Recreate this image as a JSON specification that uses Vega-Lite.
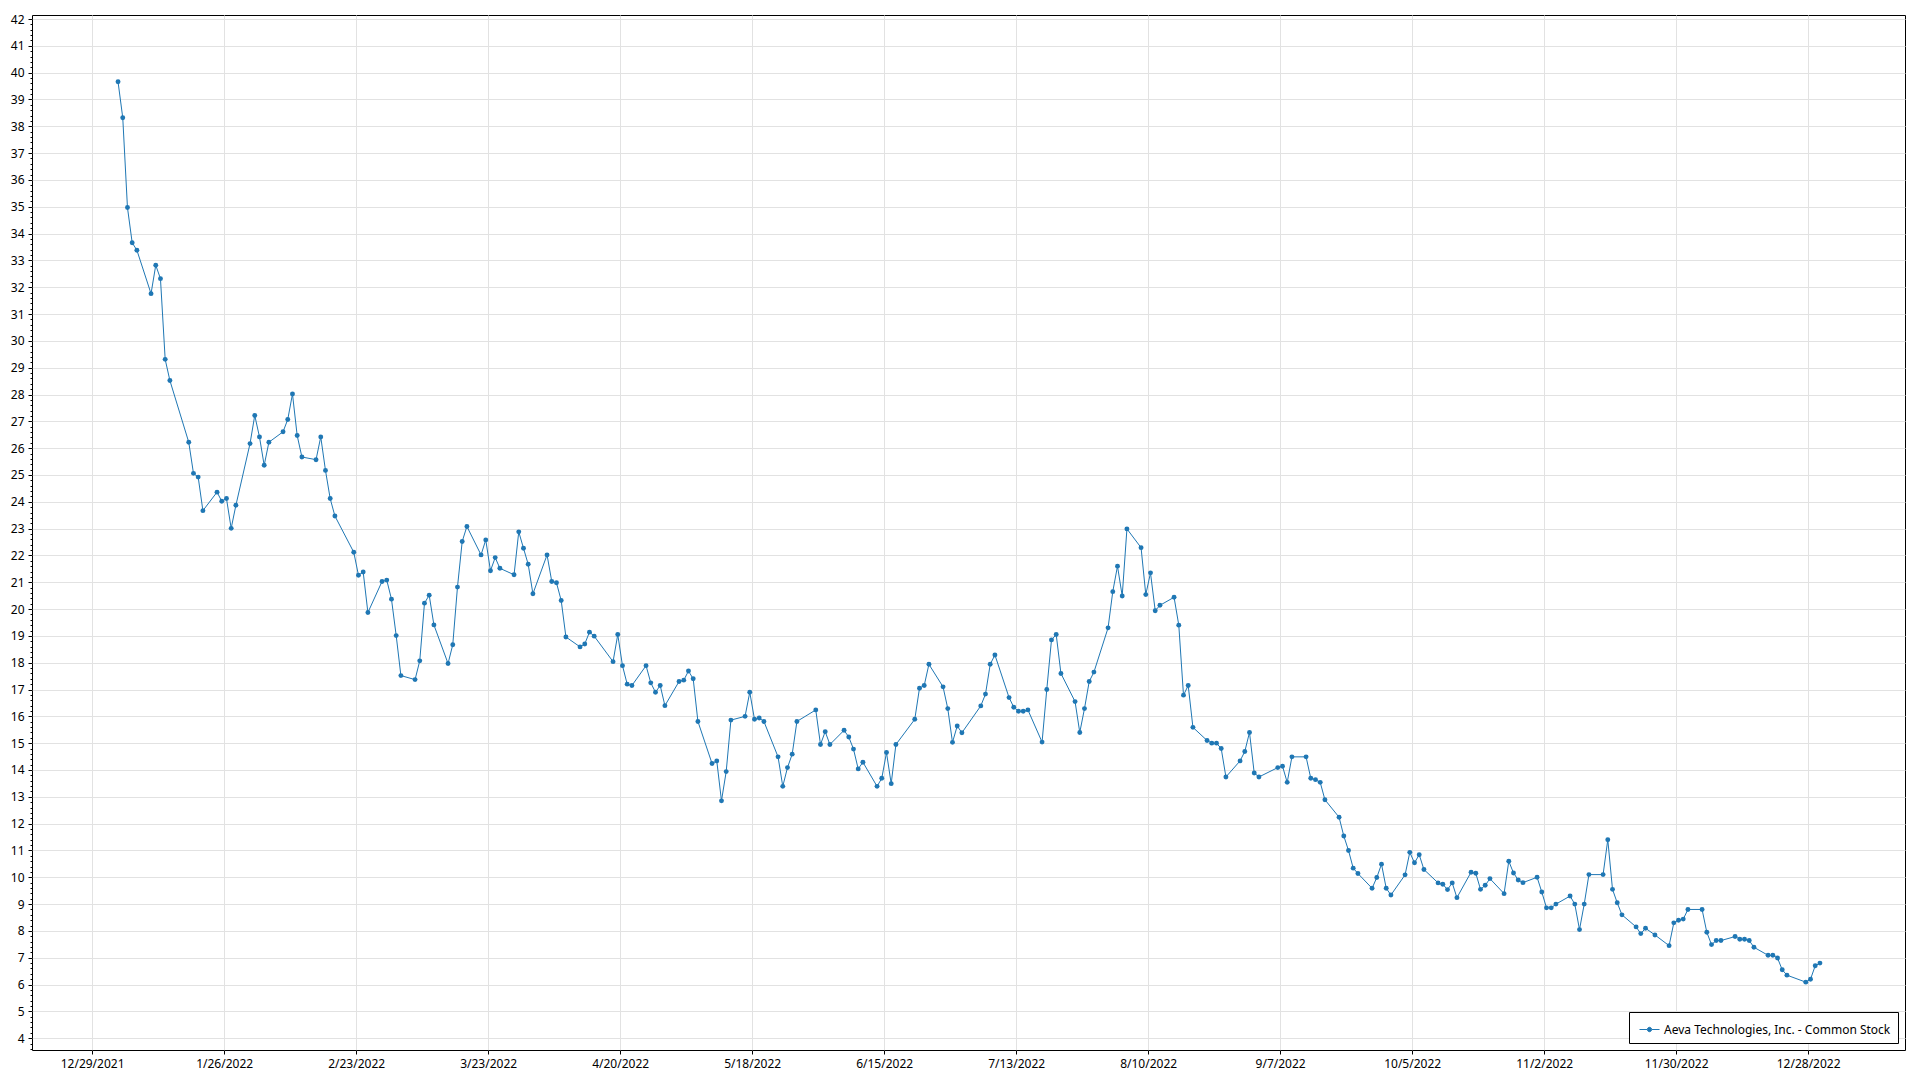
{
  "$schema": "https://vega.github.io/schema/vega-lite/v6.json",
  "width": 1873,
  "height": 1035,
  "autosize": {"type": "none"},
  "padding": {"left": 32, "top": 15, "right": 15, "bottom": 30},
  "background": "white",
  "config": {
    "view": {"stroke": "#000000", "strokeWidth": 1},
    "font": "Segoe UI, Noto Sans, sans-serif"
  },
  "data": {
    "format": {"parse": {"date": "date:'%Y-%m-%dT%H:%M'"}},
    "values": [
      {"date": "2022-01-03T12:00", "close": 39.66}, {"date": "2022-01-04T12:00", "close": 38.32}, {"date": "2022-01-05T12:00", "close": 34.97}, {"date": "2022-01-06T12:00", "close": 33.66}, {"date": "2022-01-07T12:00", "close": 33.38},
      {"date": "2022-01-10T12:00", "close": 31.76}, {"date": "2022-01-11T12:00", "close": 32.82}, {"date": "2022-01-12T12:00", "close": 32.32}, {"date": "2022-01-13T12:00", "close": 29.31}, {"date": "2022-01-14T12:00", "close": 28.52},
      {"date": "2022-01-18T12:00", "close": 26.22}, {"date": "2022-01-19T12:00", "close": 25.06}, {"date": "2022-01-20T12:00", "close": 24.92}, {"date": "2022-01-21T12:00", "close": 23.67},
      {"date": "2022-01-24T12:00", "close": 24.36}, {"date": "2022-01-25T12:00", "close": 24.02}, {"date": "2022-01-26T12:00", "close": 24.12}, {"date": "2022-01-27T12:00", "close": 23.01}, {"date": "2022-01-28T12:00", "close": 23.87},
      {"date": "2022-01-31T12:00", "close": 26.17}, {"date": "2022-02-01T12:00", "close": 27.22}, {"date": "2022-02-02T12:00", "close": 26.42}, {"date": "2022-02-03T12:00", "close": 25.36}, {"date": "2022-02-04T12:00", "close": 26.22},
      {"date": "2022-02-07T12:00", "close": 26.61}, {"date": "2022-02-08T12:00", "close": 27.07}, {"date": "2022-02-09T12:00", "close": 28.02}, {"date": "2022-02-10T12:00", "close": 26.47}, {"date": "2022-02-11T12:00", "close": 25.67},
      {"date": "2022-02-14T12:00", "close": 25.57}, {"date": "2022-02-15T12:00", "close": 26.42}, {"date": "2022-02-16T12:00", "close": 25.17}, {"date": "2022-02-17T12:00", "close": 24.12}, {"date": "2022-02-18T12:00", "close": 23.47},
      {"date": "2022-02-22T12:00", "close": 22.12}, {"date": "2022-02-23T12:00", "close": 21.26}, {"date": "2022-02-24T12:00", "close": 21.38}, {"date": "2022-02-25T12:00", "close": 19.87},
      {"date": "2022-02-28T12:00", "close": 21.03}, {"date": "2022-03-01T12:00", "close": 21.08}, {"date": "2022-03-02T12:00", "close": 20.37}, {"date": "2022-03-03T12:00", "close": 19.01}, {"date": "2022-03-04T12:00", "close": 17.52},
      {"date": "2022-03-07T12:00", "close": 17.37}, {"date": "2022-03-08T12:00", "close": 18.07}, {"date": "2022-03-09T12:00", "close": 20.22}, {"date": "2022-03-10T12:00", "close": 20.52}, {"date": "2022-03-11T12:00", "close": 19.41},
      {"date": "2022-03-14T12:00", "close": 17.97}, {"date": "2022-03-15T12:00", "close": 18.67}, {"date": "2022-03-16T12:00", "close": 20.82}, {"date": "2022-03-17T12:00", "close": 22.52}, {"date": "2022-03-18T12:00", "close": 23.08},
      {"date": "2022-03-21T12:00", "close": 22.02}, {"date": "2022-03-22T12:00", "close": 22.58}, {"date": "2022-03-23T12:00", "close": 21.43}, {"date": "2022-03-24T12:00", "close": 21.92}, {"date": "2022-03-25T12:00", "close": 21.52},
      {"date": "2022-03-28T12:00", "close": 21.28}, {"date": "2022-03-29T12:00", "close": 22.88}, {"date": "2022-03-30T12:00", "close": 22.27}, {"date": "2022-03-31T12:00", "close": 21.67}, {"date": "2022-04-01T12:00", "close": 20.57},
      {"date": "2022-04-04T12:00", "close": 22.02}, {"date": "2022-04-05T12:00", "close": 21.03}, {"date": "2022-04-06T12:00", "close": 20.98}, {"date": "2022-04-07T12:00", "close": 20.32}, {"date": "2022-04-08T12:00", "close": 18.96},
      {"date": "2022-04-11T12:00", "close": 18.59}, {"date": "2022-04-12T12:00", "close": 18.70}, {"date": "2022-04-13T12:00", "close": 19.14}, {"date": "2022-04-14T12:00", "close": 18.99},
      {"date": "2022-04-18T12:00", "close": 18.04}, {"date": "2022-04-19T12:00", "close": 19.05}, {"date": "2022-04-20T12:00", "close": 17.89}, {"date": "2022-04-21T12:00", "close": 17.20}, {"date": "2022-04-22T12:00", "close": 17.15},
      {"date": "2022-04-25T12:00", "close": 17.89}, {"date": "2022-04-26T12:00", "close": 17.25}, {"date": "2022-04-27T12:00", "close": 16.90}, {"date": "2022-04-28T12:00", "close": 17.15}, {"date": "2022-04-29T12:00", "close": 16.40},
      {"date": "2022-05-02T12:00", "close": 17.30}, {"date": "2022-05-03T12:00", "close": 17.35}, {"date": "2022-05-04T12:00", "close": 17.69}, {"date": "2022-05-05T12:00", "close": 17.40}, {"date": "2022-05-06T12:00", "close": 15.81},
      {"date": "2022-05-09T12:00", "close": 14.24}, {"date": "2022-05-10T12:00", "close": 14.34}, {"date": "2022-05-11T12:00", "close": 12.85}, {"date": "2022-05-12T12:00", "close": 13.94}, {"date": "2022-05-13T12:00", "close": 15.86},
      {"date": "2022-05-16T12:00", "close": 16.00}, {"date": "2022-05-17T12:00", "close": 16.90}, {"date": "2022-05-18T12:00", "close": 15.89}, {"date": "2022-05-19T12:00", "close": 15.94}, {"date": "2022-05-20T12:00", "close": 15.81},
      {"date": "2022-05-23T12:00", "close": 14.49}, {"date": "2022-05-24T12:00", "close": 13.39}, {"date": "2022-05-25T12:00", "close": 14.09}, {"date": "2022-05-26T12:00", "close": 14.59}, {"date": "2022-05-27T12:00", "close": 15.81},
      {"date": "2022-05-31T12:00", "close": 16.24}, {"date": "2022-06-01T12:00", "close": 14.95}, {"date": "2022-06-02T12:00", "close": 15.43}, {"date": "2022-06-03T12:00", "close": 14.95},
      {"date": "2022-06-06T12:00", "close": 15.48}, {"date": "2022-06-07T12:00", "close": 15.23}, {"date": "2022-06-08T12:00", "close": 14.78}, {"date": "2022-06-09T12:00", "close": 14.04}, {"date": "2022-06-10T12:00", "close": 14.29},
      {"date": "2022-06-13T12:00", "close": 13.39}, {"date": "2022-06-14T12:00", "close": 13.69}, {"date": "2022-06-15T12:00", "close": 14.65}, {"date": "2022-06-16T12:00", "close": 13.49}, {"date": "2022-06-17T12:00", "close": 14.95},
      {"date": "2022-06-21T12:00", "close": 15.89}, {"date": "2022-06-22T12:00", "close": 17.05}, {"date": "2022-06-23T12:00", "close": 17.15}, {"date": "2022-06-24T12:00", "close": 17.94},
      {"date": "2022-06-27T12:00", "close": 17.10}, {"date": "2022-06-28T12:00", "close": 16.29}, {"date": "2022-06-29T12:00", "close": 15.03}, {"date": "2022-06-30T12:00", "close": 15.64}, {"date": "2022-07-01T12:00", "close": 15.39},
      {"date": "2022-07-05T12:00", "close": 16.39}, {"date": "2022-07-06T12:00", "close": 16.83}, {"date": "2022-07-07T12:00", "close": 17.94}, {"date": "2022-07-08T12:00", "close": 18.29},
      {"date": "2022-07-11T12:00", "close": 16.70}, {"date": "2022-07-12T12:00", "close": 16.34}, {"date": "2022-07-13T12:00", "close": 16.19}, {"date": "2022-07-14T12:00", "close": 16.19}, {"date": "2022-07-15T12:00", "close": 16.24},
      {"date": "2022-07-18T12:00", "close": 15.04}, {"date": "2022-07-19T12:00", "close": 17.00}, {"date": "2022-07-20T12:00", "close": 18.85}, {"date": "2022-07-21T12:00", "close": 19.05}, {"date": "2022-07-22T12:00", "close": 17.60},
      {"date": "2022-07-25T12:00", "close": 16.55}, {"date": "2022-07-26T12:00", "close": 15.40}, {"date": "2022-07-27T12:00", "close": 16.29}, {"date": "2022-07-28T12:00", "close": 17.30}, {"date": "2022-07-29T12:00", "close": 17.65},
      {"date": "2022-08-01T12:00", "close": 19.30}, {"date": "2022-08-02T12:00", "close": 20.65}, {"date": "2022-08-03T12:00", "close": 21.60}, {"date": "2022-08-04T12:00", "close": 20.49}, {"date": "2022-08-05T12:00", "close": 22.99},
      {"date": "2022-08-08T12:00", "close": 22.29}, {"date": "2022-08-09T12:00", "close": 20.54}, {"date": "2022-08-10T12:00", "close": 21.35}, {"date": "2022-08-11T12:00", "close": 19.94}, {"date": "2022-08-12T12:00", "close": 20.14},
      {"date": "2022-08-15T12:00", "close": 20.44}, {"date": "2022-08-16T12:00", "close": 19.40}, {"date": "2022-08-17T12:00", "close": 16.79}, {"date": "2022-08-18T12:00", "close": 17.15}, {"date": "2022-08-19T12:00", "close": 15.59},
      {"date": "2022-08-22T12:00", "close": 15.10}, {"date": "2022-08-23T12:00", "close": 15.00}, {"date": "2022-08-24T12:00", "close": 15.00}, {"date": "2022-08-25T12:00", "close": 14.80}, {"date": "2022-08-26T12:00", "close": 13.74},
      {"date": "2022-08-29T12:00", "close": 14.34}, {"date": "2022-08-30T12:00", "close": 14.69}, {"date": "2022-08-31T12:00", "close": 15.40}, {"date": "2022-09-01T12:00", "close": 13.89}, {"date": "2022-09-02T12:00", "close": 13.74},
      {"date": "2022-09-06T12:00", "close": 14.09}, {"date": "2022-09-07T12:00", "close": 14.14}, {"date": "2022-09-08T12:00", "close": 13.54}, {"date": "2022-09-09T12:00", "close": 14.49},
      {"date": "2022-09-12T12:00", "close": 14.49}, {"date": "2022-09-13T12:00", "close": 13.69}, {"date": "2022-09-14T12:00", "close": 13.64}, {"date": "2022-09-15T12:00", "close": 13.54}, {"date": "2022-09-16T12:00", "close": 12.89},
      {"date": "2022-09-19T12:00", "close": 12.24}, {"date": "2022-09-20T12:00", "close": 11.54}, {"date": "2022-09-21T12:00", "close": 11.00}, {"date": "2022-09-22T12:00", "close": 10.34}, {"date": "2022-09-23T12:00", "close": 10.14},
      {"date": "2022-09-26T12:00", "close": 9.59}, {"date": "2022-09-27T12:00", "close": 9.99}, {"date": "2022-09-28T12:00", "close": 10.49}, {"date": "2022-09-29T12:00", "close": 9.59}, {"date": "2022-09-30T12:00", "close": 9.34},
      {"date": "2022-10-03T12:00", "close": 10.09}, {"date": "2022-10-04T12:00", "close": 10.93}, {"date": "2022-10-05T12:00", "close": 10.54}, {"date": "2022-10-06T12:00", "close": 10.84}, {"date": "2022-10-07T12:00", "close": 10.29},
      {"date": "2022-10-10T12:00", "close": 9.79}, {"date": "2022-10-11T12:00", "close": 9.74}, {"date": "2022-10-12T12:00", "close": 9.54}, {"date": "2022-10-13T12:00", "close": 9.79}, {"date": "2022-10-14T12:00", "close": 9.24},
      {"date": "2022-10-17T12:00", "close": 10.19}, {"date": "2022-10-18T12:00", "close": 10.15}, {"date": "2022-10-19T12:00", "close": 9.55}, {"date": "2022-10-20T12:00", "close": 9.70}, {"date": "2022-10-21T12:00", "close": 9.95},
      {"date": "2022-10-24T12:00", "close": 9.39}, {"date": "2022-10-25T12:00", "close": 10.60}, {"date": "2022-10-26T12:00", "close": 10.16}, {"date": "2022-10-27T12:00", "close": 9.90}, {"date": "2022-10-28T12:00", "close": 9.80},
      {"date": "2022-10-31T12:00", "close": 10.00}, {"date": "2022-11-01T12:00", "close": 9.45}, {"date": "2022-11-02T12:00", "close": 8.86}, {"date": "2022-11-03T12:00", "close": 8.86}, {"date": "2022-11-04T12:00", "close": 9.00},
      {"date": "2022-11-07T12:00", "close": 9.30}, {"date": "2022-11-08T12:00", "close": 9.00}, {"date": "2022-11-09T12:00", "close": 8.05}, {"date": "2022-11-10T12:00", "close": 9.00}, {"date": "2022-11-11T12:00", "close": 10.10},
      {"date": "2022-11-14T12:00", "close": 10.10}, {"date": "2022-11-15T12:00", "close": 11.40}, {"date": "2022-11-16T12:00", "close": 9.55}, {"date": "2022-11-17T12:00", "close": 9.05}, {"date": "2022-11-18T12:00", "close": 8.60},
      {"date": "2022-11-21T12:00", "close": 8.15}, {"date": "2022-11-22T12:00", "close": 7.90}, {"date": "2022-11-23T12:00", "close": 8.10}, {"date": "2022-11-25T12:00", "close": 7.85},
      {"date": "2022-11-28T12:00", "close": 7.45}, {"date": "2022-11-29T12:00", "close": 8.30}, {"date": "2022-11-30T12:00", "close": 8.40}, {"date": "2022-12-01T12:00", "close": 8.44}, {"date": "2022-12-02T12:00", "close": 8.80},
      {"date": "2022-12-05T12:00", "close": 8.80}, {"date": "2022-12-06T12:00", "close": 7.95}, {"date": "2022-12-07T12:00", "close": 7.49}, {"date": "2022-12-08T12:00", "close": 7.64}, {"date": "2022-12-09T12:00", "close": 7.64},
      {"date": "2022-12-12T12:00", "close": 7.79}, {"date": "2022-12-13T12:00", "close": 7.69}, {"date": "2022-12-14T12:00", "close": 7.69}, {"date": "2022-12-15T12:00", "close": 7.64}, {"date": "2022-12-16T12:00", "close": 7.39},
      {"date": "2022-12-19T12:00", "close": 7.09}, {"date": "2022-12-20T12:00", "close": 7.09}, {"date": "2022-12-21T12:00", "close": 6.99}, {"date": "2022-12-22T12:00", "close": 6.55}, {"date": "2022-12-23T12:00", "close": 6.35},
      {"date": "2022-12-27T12:00", "close": 6.09}, {"date": "2022-12-28T12:00", "close": 6.20}, {"date": "2022-12-29T12:00", "close": 6.70}, {"date": "2022-12-30T12:00", "close": 6.80}
    ]
  },
  "encoding": {
    "x": {
      "field": "date",
      "type": "temporal",
      "scale": {
        "domain": [{"year": 2021, "month": 12, "date": 16, "hours": 6}, {"year": 2023, "month": 1, "date": 17, "hours": 13}],
        "nice": false
      },
      "axis": {
        "title": null,
        "values": [
          {"year": 2021, "month": 12, "date": 29}, {"year": 2022, "month": 1, "date": 26}, {"year": 2022, "month": 2, "date": 23},
          {"year": 2022, "month": 3, "date": 23}, {"year": 2022, "month": 4, "date": 20}, {"year": 2022, "month": 5, "date": 18},
          {"year": 2022, "month": 6, "date": 15}, {"year": 2022, "month": 7, "date": 13}, {"year": 2022, "month": 8, "date": 10},
          {"year": 2022, "month": 9, "date": 7}, {"year": 2022, "month": 10, "date": 5}, {"year": 2022, "month": 11, "date": 2},
          {"year": 2022, "month": 11, "date": 30}, {"year": 2022, "month": 12, "date": 28}
        ],
        "format": "%-m/%-d/%Y",
        "grid": true,
        "gridColor": "#e2e2e2",
        "gridWidth": 1,
        "domain": false,
        "tickColor": "#000000",
        "tickSize": 4,
        "labelPadding": 4,
        "labelFontSize": 12,
        "labelColor": "#000000",
        "labelFlush": false,
        "labelOverlap": false
      }
    },
    "y": {
      "field": "close",
      "type": "quantitative",
      "scale": {"domain": [3.56, 42.15], "nice": false, "zero": false},
      "axis": {
        "title": null,
        "tickCount": 200,
        "labelExpr": "abs(datum.value - round(datum.value)) < 0.001 ? format(datum.value, 'd') : ''",
        "labelOverlap": false,
        "labelFlush": false,
        "grid": true,
        "gridColor": "#e2e2e2",
        "gridOpacity": {"condition": {"test": "abs(datum.value - round(datum.value)) < 0.001", "value": 1}, "value": 0},
        "tickSize": {"condition": {"test": "abs(datum.value - round(datum.value)) < 0.001", "value": 4}, "value": 2},
        "tickColor": "#000000",
        "domain": false,
        "labelPadding": 4,
        "labelFontSize": 12,
        "labelColor": "#000000"
      }
    },
    "color": {
      "datum": "Aeva Technologies, Inc. - Common Stock",
      "type": "nominal",
      "scale": {"range": ["#1f77b4"]},
      "legend": {
        "title": null,
        "orient": "bottom-right",
        "offset": 7,
        "strokeColor": "#000000",
        "fillColor": "#ffffff",
        "padding": 7,
        "symbolOffset": 3,
        "labelFontSize": 12,
        "labelColor": "#000000",
        "labelLimit": 400,
        "labelOffset": 4,
        "symbolType": "M-1,0L-0.25,0M0.25,0L1,0M-0.22,0A0.22,0.22 0 1,0 0.22,0A0.22,0.22 0 1,0 -0.22,0Z",
        "symbolSize": 400,
        "symbolStrokeWidth": 1,
        "symbolFillColor": "#1f77b4",
        "symbolStrokeColor": "#1f77b4"
      }
    }
  },
  "layer": [
    {"mark": {"type": "line", "strokeWidth": 1}, "encoding": {}},
    {"mark": {"type": "point", "filled": true, "size": 24, "opacity": 1}}
  ]
}
